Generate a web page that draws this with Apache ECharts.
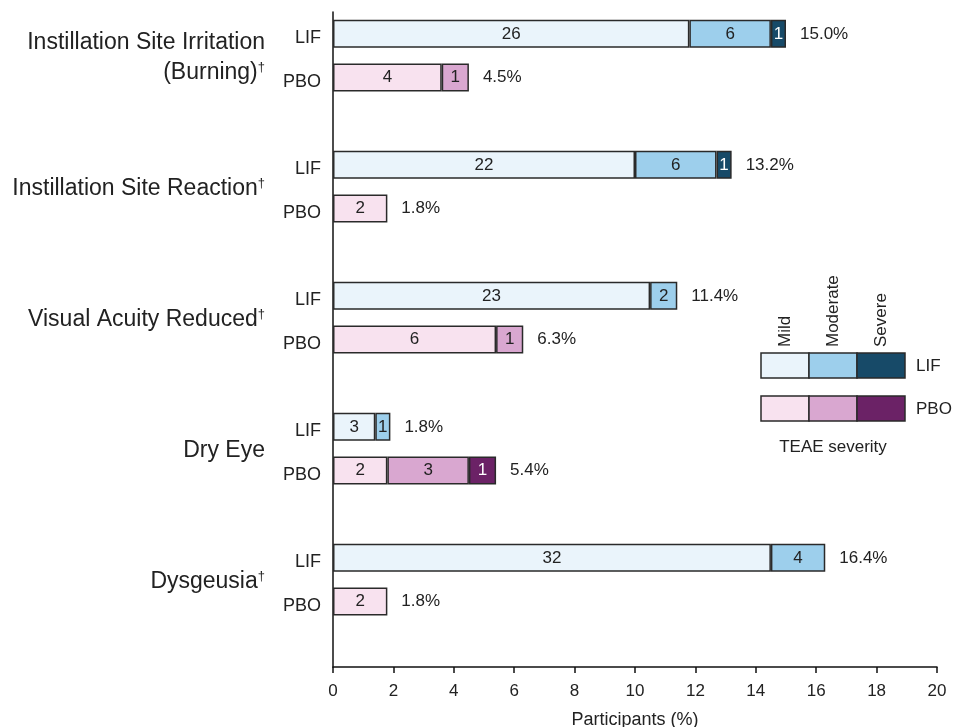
<!DOCTYPE html>
<html>
<head>
<meta charset="utf-8">
<script src="https://cdn.jsdelivr.net/npm/echarts@6/dist/echarts.min.js"></script>
<style>
  html, body { margin: 0; padding: 0; background: #fff; }
  #main { width: 954px; height: 727px; }
</style>
</head>
<body>
<div id="main"></div>
<script>
// 分组名称
const groups = [
  'Instillation Site Irritation\n(Burning)',
  'Instillation Site Reaction',
  'Visual Acuity Reduced',
  'Dry Eye',
  'Dysgeusia'
];
const hasDagger = [true, true, true, false, true];

// LIF (%), 读图估计
const lifMild = [11.8, 10.0, 10.5, 1.4, 14.5];
const lifModerate = [2.7, 2.7, 0.9, 0.5, 1.8];
const lifSevere = [0.5, 0.5, 0, 0, 0];
const lifMildN = [26, 22, 23, 3, 32];
const lifModerateN = [6, 6, 2, 1, 4];
const lifSevereN = [1, 1, 0, 0, 0];
const lifTotal = [15.0, 13.2, 11.4, 1.8, 16.4];

// PBO (%)
const pboMild = [3.6, 1.8, 5.4, 1.8, 1.8];
const pboModerate = [0.9, 0, 0.9, 2.7, 0];
const pboSevere = [0, 0, 0, 0.9, 0];
const pboMildN = [4, 2, 6, 2, 2];
const pboModerateN = [1, 0, 1, 3, 0];
const pboSevereN = [0, 0, 0, 1, 0];
const pboTotal = [4.5, 1.8, 6.3, 5.4, 1.8];

const xTicks = { min: 0, max: 20, interval: 2 };
const armLabels = ['LIF', 'PBO', ''];
const severityNames = ['Mild', 'Moderate', 'Severe'];

const lifColors = ['#eaf4fb', '#9dcfec', '#174a68'];
const pboColors = ['#f8e2ef', '#d9a7d0', '#6b2266'];

const font = 'Liberation Sans, Arial, sans-serif';

// 每组3个槽位: LIF, PBO, 空
const slotLabels = [];
groups.forEach(() => armLabels.forEach(a => slotLabels.push(a)));

function slots(values, arm) {
  const out = [];
  values.forEach((v, i) => {
    for (let k = 0; k < 3; k++) {
      out.push(k === arm && v > 0 ? v : '-');
    }
  });
  return out;
}

// 第二个y轴: 组名放在LIF和PBO之间
const groupAxis = [];
for (let i = 0; i < 16; i++) groupAxis.push('');
groups.forEach((g, i) => {
  const lines = g.split('\n');
  let txt = lines.map((l, j) => {
    let s = '{n|' + l + '}';
    if (j === lines.length - 1 && hasDagger[i]) s += '{sup|†}';
    return s;
  }).join('\n');
  groupAxis[1 + 3 * i] = txt;
});

const borderColor = '#2a2a2a';

function segSeries(name, values, counts, arm, color, textColor) {
  return {
    name: name,
    type: 'bar',
    stack: 'all',
    barWidth: 28,
    yAxisIndex: 0,
    data: slots(values, arm),
    itemStyle: { color: color, borderColor: borderColor, borderWidth: 1.5 },
    label: {
      show: true,
      position: 'inside',
      fontSize: 17,
      fontFamily: font,
      color: textColor,
      formatter: p => String(counts[Math.floor(p.dataIndex / 3)])
    },
    emphasis: { disabled: true },
    animation: false
  };
}

const totalData = [];
groups.forEach(() => { totalData.push(0, 0, '-'); });

const series = [
  segSeries('LIF Mild', lifMild, lifMildN, 0, lifColors[0], '#222'),
  segSeries('LIF Moderate', lifModerate, lifModerateN, 0, lifColors[1], '#222'),
  segSeries('LIF Severe', lifSevere, lifSevereN, 0, lifColors[2], '#fff'),
  segSeries('PBO Mild', pboMild, pboMildN, 1, pboColors[0], '#222'),
  segSeries('PBO Moderate', pboModerate, pboModerateN, 1, pboColors[1], '#222'),
  segSeries('PBO Severe', pboSevere, pboSevereN, 1, pboColors[2], '#fff'),
  {
    name: 'Total',
    type: 'bar',
    stack: 'all',
    barWidth: 28,
    data: totalData,
    itemStyle: { color: 'rgba(0,0,0,0)', borderWidth: 0 },
    label: {
      show: true,
      position: 'right',
      distance: 14,
      fontSize: 17,
      fontFamily: font,
      color: '#222',
      formatter: p => {
        const g = Math.floor(p.dataIndex / 3);
        const t = p.dataIndex % 3 === 0 ? lifTotal[g] : pboTotal[g];
        return t.toFixed(1) + '%';
      }
    },
    emphasis: { disabled: true },
    animation: false
  }
];

// 右侧图例
const legendX = 761, swW = 48, swH = 25;
const legendRows = [{ y: 353, colors: lifColors, name: 'LIF' }, { y: 396, colors: pboColors, name: 'PBO' }];
const graphic = [];
legendRows.forEach(r => {
  r.colors.forEach((c, k) => {
    graphic.push({
      type: 'rect',
      shape: { x: legendX + k * swW, y: r.y, width: swW, height: swH },
      style: { fill: c, stroke: borderColor, lineWidth: 1.5 }
    });
  });
  graphic.push({
    type: 'text',
    x: legendX + 3 * swW + 11, y: r.y + swH / 2 + 1,
    style: { text: r.name, fontSize: 17, fontFamily: font, fill: '#222', verticalAlign: 'middle' }
  });
});
severityNames.forEach((s, k) => {
  graphic.push({
    type: 'text',
    x: legendX + k * swW + swW / 2, y: 347,
    rotation: Math.PI / 2,
    style: { text: s, fontSize: 17, fontFamily: font, fill: '#222', align: 'left', verticalAlign: 'middle' }
  });
});
graphic.push({
  type: 'text',
  x: legendX + 1.5 * swW, y: 447,
  style: { text: 'TEAE severity', fontSize: 17, fontFamily: font, fill: '#222', align: 'center', verticalAlign: 'middle' }
});

const chart = echarts.init(document.getElementById('main'));
const option = {
  backgroundColor: '#fff',
  textStyle: { fontFamily: font },
  grid: { left: 333, right: 17, top: 12, bottom: 60, containLabel: false, outerBoundsMode: 'none' },
  xAxis: {
    type: 'value',
    min: xTicks.min,
    max: xTicks.max,
    interval: xTicks.interval,
    name: 'Participants (%)',
    nameLocation: 'middle',
    nameGap: 44,
    nameTextStyle: { fontSize: 18, color: '#222' },
    axisLine: { show: true, lineStyle: { color: '#111', width: 1.5 } },
    axisTick: { show: true, length: 6, lineStyle: { color: '#111', width: 1.5 } },
    axisLabel: { fontSize: 17, color: '#222', margin: 16 },
    splitLine: { show: false }
  },
  yAxis: [
    {
      type: 'category',
      inverse: true,
      data: slotLabels,
      axisLine: { show: true, lineStyle: { color: '#111', width: 1.5 } },
      axisTick: { show: false },
      axisLabel: {
        margin: 12,
        formatter: v => v ? '{a|' + v + '}' : '',
        rich: { a: { fontSize: 18, color: '#222', fontFamily: font, padding: [9, 0, 0, 0] } }
      },
      splitLine: { show: false }
    },
    {
      type: 'category',
      inverse: true,
      position: 'left',
      boundaryGap: false,
      data: groupAxis,
      axisLine: { show: false },
      axisTick: { show: false },
      axisLabel: {
        margin: 68,
        interval: 0,
        align: 'right',
        color: '#222',
        padding: [4, 0, 0, 0],
        rich: {
          n: { fontSize: 23, lineHeight: 30, color: '#222', fontFamily: font },
          sup: { fontSize: 13, color: '#222', padding: [0, 0, 11, 0], fontFamily: font }
        }
      },
      splitLine: { show: false }
    }
  ],
  series: series,
  graphic: graphic
};
option && chart.setOption(option);
</script>
</body>
</html>
